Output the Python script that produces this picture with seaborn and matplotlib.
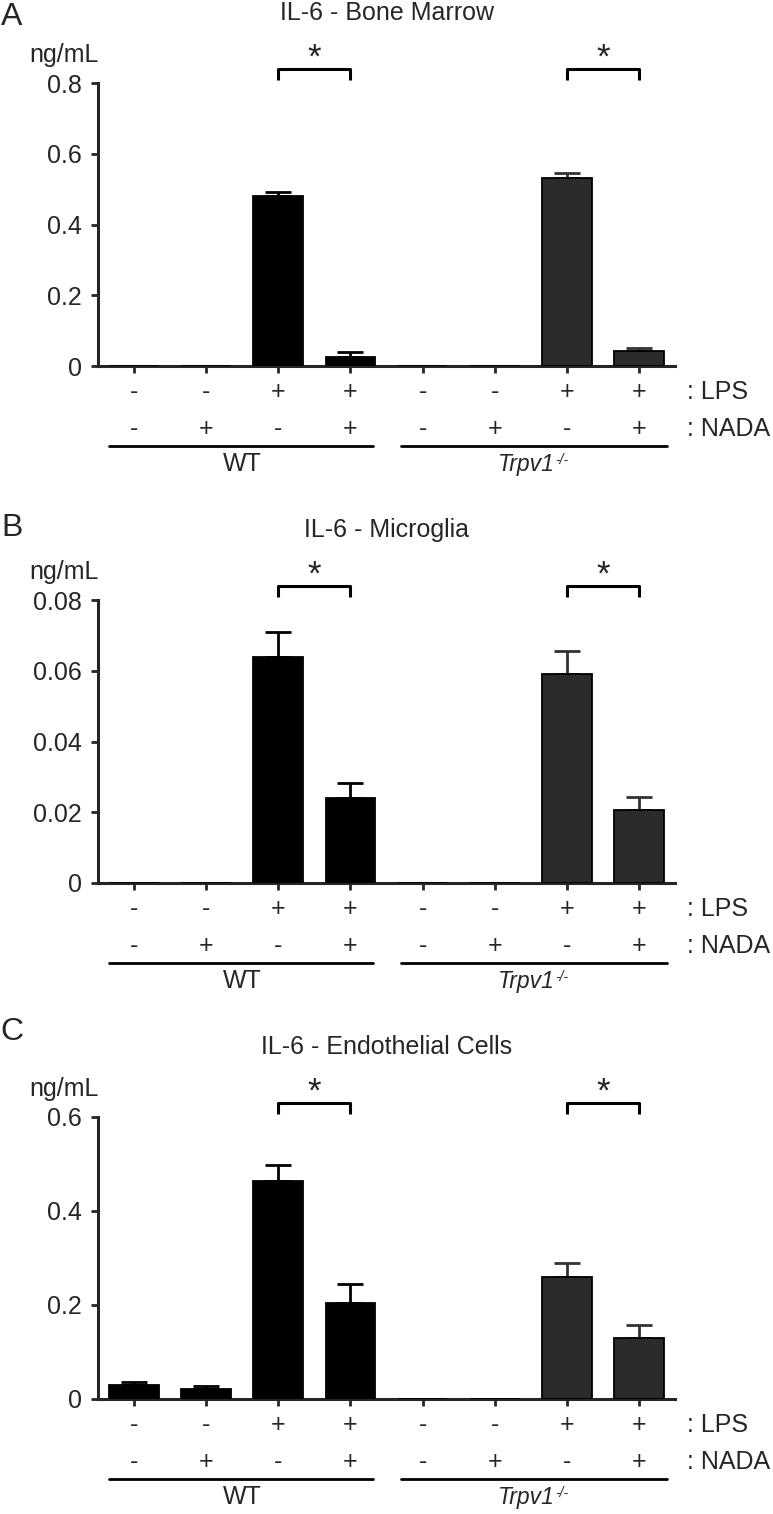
import numpy as np
import pandas as pd
import matplotlib.pyplot as plt
import seaborn as sns

# Bars, left to right
genotype = ['WT'] * 4 + ['Trpv1'] * 4
lps = ['-', '-', '+', '+', '-', '-', '+', '+']
nada = ['-', '+', '-', '+', '-', '+', '-', '+']

# IL-6 (ng/mL): mean and upper error per bar
bm_mean = [0, 0, 0.480, 0.025, 0, 0, 0.531, 0.042]
bm_err = [0, 0, 0.012, 0.014, 0, 0, 0.014, 0.009]
mg_mean = [0, 0, 0.0639, 0.0240, 0, 0, 0.0591, 0.0206]
mg_err = [0, 0, 0.0071, 0.0043, 0, 0, 0.0065, 0.0037]
ec_mean = [0.030, 0.022, 0.463, 0.205, 0, 0, 0.260, 0.130]
ec_err = [0.006, 0.005, 0.035, 0.039, 0, 0, 0.030, 0.028]

titles = ['IL-6 - Bone Marrow', 'IL-6 - Microglia', 'IL-6 - Endothelial Cells']
letters = ['A', 'B', 'C']
ymax = [0.8, 0.08, 0.6]
yticks = [[0, 0.2, 0.4, 0.6, 0.8], [0, 0.02, 0.04, 0.06, 0.08], [0, 0.2, 0.4, 0.6]]
yticklabels = [['0', '0.2', '0.4', '0.6', '0.8'],
               ['0', '0.02', '0.04', '0.06', '0.08'],
               ['0', '0.2', '0.4', '0.6']]
sig_pairs = [(2, 3), (6, 7)]

sns.set_style('ticks')
plt.rcParams['font.family'] = ['Liberation Sans', 'DejaVu Sans']

FS = 18
bar_colors = {'WT': '#000000', 'Trpv1': '#2b2b2b'}
err_colors = {'WT': '#000000', 'Trpv1': '#333333'}

fig = plt.figure(figsize=(7.73, 15.14), dpi=100)
W, H = 773, 1514
panels = [(83, 366), (600, 883), (1117, 1399)]
letter_y = [17, 528, 1032]

for k, (means, errs) in enumerate([(bm_mean, bm_err), (mg_mean, mg_err), (ec_mean, ec_err)]):
    top, bot = panels[k]
    ax = fig.add_axes([98 / W, 1 - bot / H, 577 / W, (bot - top) / H])
    df = pd.DataFrame({'pos': np.arange(8), 'val': means, 'geno': genotype})
    sns.barplot(data=df, x='pos', y='val', hue='geno', palette=bar_colors,
                width=0.69, edgecolor='black', linewidth=1.3, errorbar=None,
                legend=False, ax=ax, zorder=3)
    for g in ['WT', 'Trpv1']:
        sel = (df['geno'] == g) & (np.array(errs) > 0)
        e = np.array(errs)[sel]
        ax.errorbar(df['pos'][sel], df['val'][sel], yerr=[np.zeros_like(e), e],
                    fmt='none', ecolor=err_colors[g], elinewidth=2.0,
                    capsize=9.5, capthick=2.0, zorder=2, clip_on=False)

    ax.set_xlim(-0.5, 7.5)
    ax.set_ylim(0, ymax[k])
    ax.set_yticks(yticks[k])
    ax.set_yticklabels(yticklabels[k], fontsize=FS)
    ax.set_xticks(range(8))
    ax.set_xticklabels([])
    ax.set_xlabel('')
    ax.set_ylabel('')
    sns.despine(ax=ax)
    for s in ['left', 'bottom']:
        ax.spines[s].set_linewidth(2.2)
    ax.tick_params(axis='both', width=2.0, length=5, direction='out', pad=6.5)

    # title, unit, panel letter
    ax.text(0.5, 1.247, titles[k], transform=ax.transAxes, ha='center', va='center', fontsize=FS)
    ax.text(-0.059, 1.10, 'ng/mL', transform=ax.transAxes, ha='center', va='center', fontsize=FS)
    fig.text(12 / W, 1 - letter_y[k] / H, letters[k], ha='center', va='center', fontsize=23)

    # significance brackets
    for a, b in sig_pairs:
        ax.plot([a, a, b, b], [1.01, 1.05, 1.05, 1.01], color='black', lw=2.2,
                transform=ax.get_xaxis_transform(), clip_on=False, solid_capstyle='butt')
        ax.text((a + b) / 2, 1.088, '*', transform=ax.get_xaxis_transform(),
                ha='center', va='center', fontsize=25)

    # treatment rows
    xt = ax.get_xaxis_transform()
    for i in range(8):
        ax.text(i, -0.092, lps[i], transform=xt, ha='center', va='center', fontsize=FS)
        ax.text(i, -0.224, nada[i], transform=xt, ha='center', va='center', fontsize=FS)
    ax.text(1.021, -0.092, ': LPS', transform=ax.transAxes, ha='left', va='center', fontsize=FS)
    ax.text(1.021, -0.224, ': NADA', transform=ax.transAxes, ha='left', va='center', fontsize=FS)

    # genotype groups
    ax.plot([-0.35, 3.31], [-0.283, -0.283], color='black', lw=2.0, transform=xt, clip_on=False)
    ax.plot([3.70, 7.39], [-0.283, -0.283], color='black', lw=2.0, transform=xt, clip_on=False)
    ax.text(1.5, -0.348, 'WT', transform=xt, ha='center', va='center', fontsize=FS)
    tr = ax.text(5.05, -0.348, 'Trpv1', transform=xt, ha='left', va='center',
                 fontsize=16.5, style='italic')
    ax.annotate('-/-', xy=(1.0, 0.98), xycoords=tr, ha='left', va='top',
                fontsize=10, style='italic')

fig.savefig('out.png', dpi=100)
